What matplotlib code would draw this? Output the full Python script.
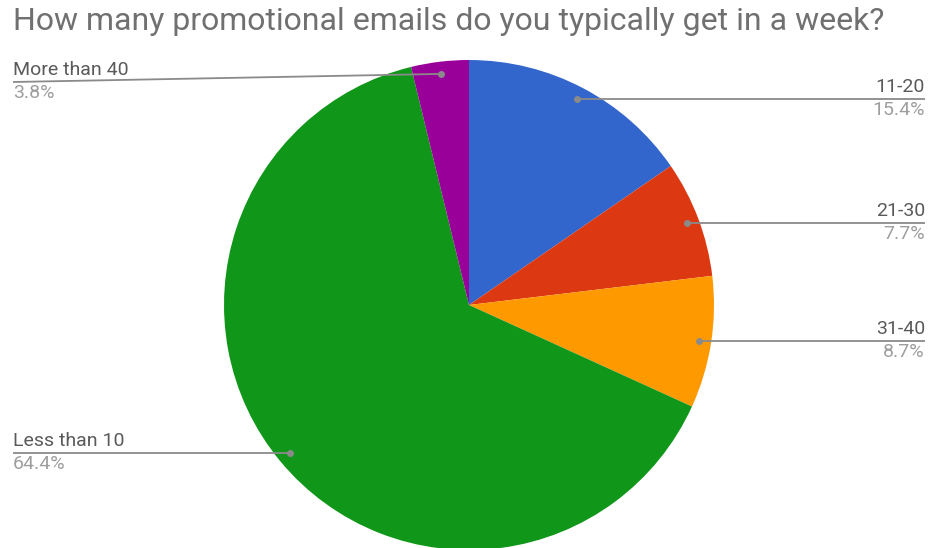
import matplotlib.pyplot as plt
import numpy as np

plt.rcParams['font.family'] = ['Roboto', 'DejaVu Sans']

# data
labels = ["11-20", "21-30", "31-40", "Less than 10", "More than 40"]
shares = [15.4, 7.7, 8.7, 64.4, 3.8]
colors = ["#3366cc", "#dc3912", "#ff9900", "#109618", "#990099"]
title = "How many promotional emails do you typically get in a week?"

W, H = 929, 548
fig = plt.figure(figsize=(W / 100, H / 100), dpi=100)
ax = fig.add_axes([0, 0, 1, 1])

cx, cy, r = 469, H - 305, 245
wedges, _ = ax.pie(shares, colors=colors, startangle=90, counterclock=False,
                   center=(cx, cy), radius=r, frame=True,
                   wedgeprops=dict(linewidth=0))
ax.set_xlim(0, W)
ax.set_ylim(0, H)
ax.set_aspect('equal')
ax.axis('off')

line_col = "#8a8a8a"
name_col = "#5a5a5a"
pct_col = "#9e9e9e"
fs = 14

for i, w in enumerate(wedges):
    mid = np.deg2rad((w.theta1 + w.theta2) / 2)
    dx = cx + 0.95 * r * np.cos(mid)
    dy = cy + 0.95 * r * np.sin(mid)
    right = np.cos(mid) > 0
    ly = dy
    if labels[i] == "More than 40":
        ly = H - 82
    if right:
        lx, ha = 925, 'right'
    else:
        lx, ha = 13, 'left'
    ax.plot([dx, lx], [dy, ly], color=line_col, lw=1.3, solid_capstyle='butt')
    ax.plot([dx], [dy], 'o', color=line_col, ms=4)
    ax.text(lx, ly + 3, labels[i], ha=ha, va='bottom', fontsize=fs, color=name_col)
    ax.text(lx, ly - 2, f"{shares[i]}%", ha=ha, va='top', fontsize=fs, color=pct_col)

ax.text(13, H - 22, title, ha='left', va='center', fontsize=23, color="#707070")

fig.savefig("out.png", dpi=100)
